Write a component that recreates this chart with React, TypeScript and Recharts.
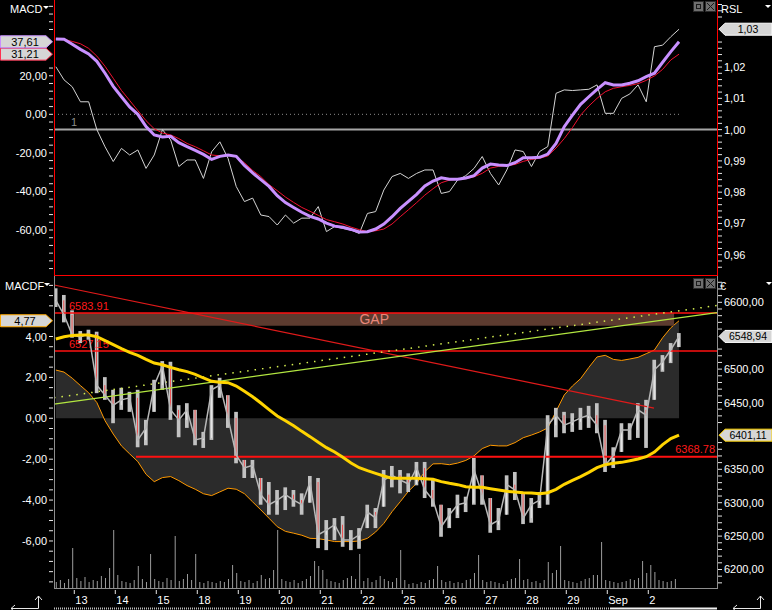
import React from "react";
import {
  ComposedChart,
  Line,
  Area,
  Bar,
  XAxis,
  YAxis,
  ReferenceLine,
  ReferenceArea,
} from "recharts";

const FONT = "'Liberation Sans', Arial, sans-serif";
const LEFT_W = 54;
const RIGHT_W = 55;

// sessions: 0 = Aug 13, one unit per trading day
const dayTicks = [0, 1, 2, 3, 4, 5, 6, 7, 8, 9, 10, 11, 12, 13, 14];
const dayLabels = ["13", "14", "15", "18", "19", "20", "21", "22", "25", "26", "27", "28", "29", "Sep", "2"];
const xDomain = [-0.495, 15.676];
const seriesStart = -0.45;
const seriesStep = 0.2;
const volumeStep = 0.1;

// upper panel: MACD / signal (left axis), RSL (right axis)
const macd = [
  39.1, 38.9, 36.3, 33.7, 31.3, 27.5, 21.3, 14.5, 9.1, 3.8,
  0.0, -6.4, -10.7, -11.8, -11.4, -14.7, -16.8, -18.7, -20.8, -23.4,
  -21.8, -21.1, -21.8, -26.5, -30.4, -33.9, -37.4, -42.2, -45.8, -48.3,
  -50.8, -52.9, -54.3, -56.4, -58.0, -58.6, -59.7, -61.0, -60.9, -59.5,
  -56.9, -53.1, -48.8, -45.1, -41.5, -37.2, -34.6, -32.9, -33.7, -33.7,
  -33.0, -31.8, -27.9, -25.8, -26.3, -26.6, -25.1, -22.5, -22.5, -22.3,
  -20.6, -15.1, -6.4, -0.4, 5.2, 9.1, 12.9, 16.4, 15.2, 15.2,
  16.1, 17.4, 19.5, 21.3, 27.0, 32.5, 37.61,
];
const signal = [
  39.1, 38.9, 37.8, 36.6, 34.2, 30.2, 24.9, 18.7, 12.4, 7.2,
  1.9, -3.3, -7.5, -9.7, -10.7, -12.6, -15.1, -16.8, -18.9, -21.1,
  -21.5, -21.3, -22.0, -25.1, -29.1, -32.3, -36.5, -39.6, -42.9, -45.7,
  -48.3, -50.3, -52.4, -54.6, -55.7, -56.9, -58.5, -59.8, -60.9, -60.4,
  -59.5, -56.9, -53.1, -49.5, -45.8, -41.9, -38.6, -35.5, -34.1, -33.7,
  -33.4, -32.4, -30.6, -27.9, -27.0, -26.6, -26.0, -24.4, -23.4, -22.8,
  -21.6, -17.5, -12.6, -6.9, -0.4, 4.3, 8.3, 11.7, 13.5, 14.3,
  15.0, 15.9, 17.6, 19.9, 23.3, 28.2, 31.21,
];
const rsl = [
  1.0201, 1.0159, 1.0137, 1.0089, 1.0089, 1.0, 0.9945, 0.9898, 0.994, 0.9919,
  0.9935, 0.9876, 0.9919, 1.0, 0.9967, 0.9882, 0.9903, 0.9903, 0.9844, 0.9929,
  0.9961, 0.9908, 0.9818, 0.977, 0.9781, 0.9727, 0.9722, 0.9695, 0.9727, 0.9701,
  0.9717, 0.9717, 0.9754, 0.9674, 0.969, 0.9684, 0.9679, 0.9668, 0.9732, 0.9738,
  0.9807, 0.985, 0.986, 0.9844, 0.986, 0.9871, 0.9871, 0.9796, 0.9802, 0.9839,
  0.9853, 0.9876, 0.9914, 0.986, 0.9823, 0.9871, 0.9935, 0.993, 0.9882, 0.993,
  0.9946, 1.0116, 1.0127, 1.0125, 1.0127, 1.0129, 1.0143, 1.0052, 1.0052, 1.01,
  1.0114, 1.0143, 1.0089, 1.0265, 1.027, 1.0297, 1.0321,
];

// lower panel: MACDF (left axis), price + average (right axis)
const macdf = [
  2.36, 2.26, 1.96, 1.6, 1.25, 0.77, -0.12, -0.77, -1.35, -1.74,
  -2.12, -2.74, -3.1, -2.9, -2.85, -3.05, -3.29, -3.47, -3.69, -3.78,
  -3.6, -3.42, -3.47, -3.69, -4.09, -4.48, -4.89, -5.3, -5.53, -5.62,
  -5.72, -5.87, -5.89, -5.95, -6.03, -6.03, -6.03, -6.0, -5.87, -5.56,
  -5.14, -4.57, -4.08, -3.57, -3.18, -2.61, -2.23, -2.22, -2.27, -2.19,
  -2.06, -1.84, -1.48, -1.32, -1.35, -1.35, -1.19, -0.95, -0.82, -0.67,
  -0.47, 0.34, 1.14, 1.58, 1.94, 2.49, 3.0, 3.08, 2.88, 2.83,
  2.9, 2.98, 3.16, 3.34, 3.94, 4.43, 4.77,
];
const priceHi = [
  6621, 6611, 6588, 6557, 6559, 6556, 6488, 6469, 6472, 6466,
  6469, 6424, 6484, 6512, 6511, 6446, 6449, 6439, 6406, 6476,
  6487, 6461, 6436, 6364, 6364, 6337, 6331, 6319, 6323, 6319,
  6314, 6340, 6337, 6274, 6277, 6280, 6259, 6262, 6297, 6292,
  6349, 6355, 6349, 6344, 6361, 6361, 6334, 6297, 6292, 6312,
  6309, 6367, 6341, 6307, 6292, 6341, 6346, 6316, 6307, 6316,
  6431, 6442, 6436, 6434, 6442, 6445, 6449, 6424, 6383, 6419,
  6419, 6449, 6454, 6514, 6521, 6539, 6554,
];
const priceLo = [
  6593, 6570, 6547, 6539, 6544, 6464, 6454, 6419, 6439, 6436,
  6383, 6386, 6436, 6469, 6424, 6398, 6412, 6386, 6382, 6394,
  6457, 6412, 6359, 6337, 6337, 6297, 6282, 6282, 6289, 6294,
  6282, 6300, 6232, 6229, 6244, 6234, 6229, 6231, 6262, 6262,
  6294, 6323, 6314, 6316, 6326, 6307, 6294, 6249, 6262, 6277,
  6286, 6297, 6297, 6255, 6259, 6282, 6304, 6268, 6270, 6292,
  6297, 6398, 6404, 6406, 6409, 6412, 6404, 6346, 6352, 6376,
  6394, 6397, 6382, 6454, 6496, 6509, 6533,
];
const priceClose = [
  6603, 6581, 6551, 6548, 6553, 6476, 6461, 6446, 6454, 6457,
  6394, 6412, 6476, 6505, 6439, 6424, 6439, 6394, 6397, 6469,
  6476, 6427, 6371, 6352, 6356, 6312, 6297, 6304, 6312, 6304,
  6297, 6331, 6252, 6259, 6267, 6244, 6244, 6252, 6286, 6277,
  6334, 6341, 6334, 6328, 6352, 6319, 6304, 6264, 6282, 6297,
  6300, 6349, 6312, 6267, 6274, 6327, 6319, 6277, 6297, 6304,
  6416, 6431, 6416, 6421, 6427, 6431, 6416, 6356, 6371, 6409,
  6409, 6439, 6431, 6499, 6511, 6529, 6548.94,
];
const avg = [
  6545.1, 6548.5, 6550.5, 6551.0, 6551.0, 6548.5, 6542.6, 6536.6, 6530.6, 6525.1,
  6520.6, 6514.6, 6509.1, 6506.6, 6502.6, 6499.1, 6496.2, 6492.2, 6486.7, 6481.7,
  6480.2, 6479.7, 6474.7, 6466.7, 6458.7, 6449.2, 6439.3, 6429.8, 6422.8, 6415.3,
  6406.8, 6398.9, 6390.4, 6382.4, 6375.9, 6367.9, 6359.4, 6352.4, 6347.9, 6343.9,
  6340.0, 6336.5, 6336.5, 6336.5, 6336.5, 6336.0, 6335.0, 6331.5, 6329.0, 6327.0,
  6324.0, 6323.0, 6323.0, 6321.0, 6319.0, 6317.0, 6316.0, 6315.0, 6314.5, 6313.5,
  6315.0, 6320.0, 6327.5, 6333.5, 6339.0, 6345.5, 6352.4, 6356.9, 6358.9, 6360.4,
  6362.9, 6365.4, 6368.9, 6375.9, 6386.9, 6395.9, 6401.11,
];
const volume = [
  6, 8, 5, 9, 40, 10, 7, 11, 6, 8, 7, 12, 10, 20, 58, 13, 7, 6, 5, 8,
  22, 9, 6, 34, 9, 7, 6, 10, 8, 52, 7, 9, 14, 8, 34, 6, 5, 7, 6, 5,
  7, 6, 9, 23, 15, 7, 6, 8, 5, 7, 13, 9, 10, 18, 58, 9, 7, 6, 8, 5,
  7, 9, 12, 27, 22, 18, 9, 7, 6, 5, 8, 10, 12, 9, 34, 7, 10, 6, 8, 12,
  9, 7, 6, 10, 38, 8, 4, 5, 4, 6, 5, 8, 9, 22, 8, 6, 7, 5, 6, 5,
  8, 9, 15, 33, 8, 6, 7, 6, 5, 4, 7, 9, 10, 29, 8, 9, 6, 7, 5, 8,
  26, 15, 18, 42, 8, 7, 6, 5, 7, 9, 10, 13, 13, 46, 8, 7, 6, 5, 6, 7,
  9, 8, 10, 27, 15, 23, 16, 8, 7, 6, 7, 9, 0,
];

// drawn levels and trendlines (price axis)
const gapTop = 6583.91;
const gapBottom = 6564.9;
const gapSpan = [0, 14.63];
const level2 = 6527.15;
const support = 6368.78;
const supportStart = 1.505;
const trendSolid = [{ x: -0.495, y: 6447.7 }, { x: 15.676, y: 6584.7 }];
const trendDotted = [{ x: -0.495, y: 6457.1 }, { x: 15.676, y: 6595.2 }];
const trendDown = [{ x: -0.495, y: 6625.9 }, { x: 14.14, y: 6441.7 }];

const steps = (from: number, to: number, step: number) => {
  const out: number[] = [];
  for (let k = 0; from + k * step <= to + step / 1000; k++) out.push(Math.round((from + k * step) * 10000) / 10000);
  return out;
};
const macdMajor = [-60, -40, -20, 0, 20, 40];
const rslMajor = [0.96, 0.97, 0.98, 0.99, 1.0, 1.01, 1.02, 1.03];
const macdfMajor = [-6, -4, -2, 0, 2, 4];
const priceMajor = [6200, 6250, 6300, 6350, 6400, 6450, 6500, 6550, 6600];

const last = macd.length - 1;
const topData = macd.map((v, i) => ({
  t: Math.round((seriesStart + i * seriesStep) * 100) / 100,
  macd: v,
  signal: signal[i],
  rsl: rsl[i],
}));
const bottomData = volume.map((v, j) => {
  const row: any = { t: Math.round((seriesStart + j * volumeStep) * 100) / 100, vol: v };
  if (j % 2 === 0) {
    const i = j / 2;
    row.candle = [priceLo[i], priceHi[i]];
    row.close = priceClose[i];
    row.open = i > 0 ? priceClose[i - 1] : priceClose[i];
    row.avg = avg[i];
    row.macdf = macdf[i];
  }
  return row;
});

const fmt = (v: number, d = 2) => v.toFixed(d).replace(".", ",");

// tick renderer; ticks sitting under a value callout are left out, as the box covers them
const yTick = (side: "left" | "right", majors: number[], covered: number[], tol: number) => (props: any) => {
  const { x, y, payload } = props;
  if (covered.some((c) => Math.abs(c - payload.value) < tol)) return <g />;
  const isMajor = majors.some((m) => Math.abs(m - payload.value) < 1e-6);
  const s = side === "left" ? -1 : 1;
  return (
    <g>
      <line x1={x + s * 1} x2={x + s * 5} y1={y} y2={y} stroke="#e6e6e6" />
      {isMajor && (
        <text x={x + s * 7} y={y + 4} textAnchor={side === "left" ? "end" : "start"} fill="#ffffff" fontSize={11} fontFamily={FONT}>
          {fmt(payload.value)}
        </text>
      )}
    </g>
  );
};

const dayTick = (props: any) => {
  const { x, y, payload } = props;
  const label = dayLabels[dayTicks.indexOf(payload.value)];
  return (
    <g>
      <line x1={x} x2={x} y1={y + 2} y2={y + 6} stroke="#e6e6e6" />
      <text x={x + 1} y={y + 16} fill="#ffffff" fontSize={11} fontFamily={FONT}>{label}</text>
    </g>
  );
};

const Candle = (props: any) => {
  const { x, y, width, height, payload } = props;
  if (!payload || !payload.candle || !(height > 0)) return null;
  const [lo, hi] = payload.candle;
  const toY = (v: number) => y + ((hi - v) / (hi - lo)) * height;
  const open = Math.min(hi, Math.max(lo, payload.open));
  const top = toY(Math.max(open, payload.close));
  const bot = toY(Math.min(open, payload.close));
  return (
    <g>
      <rect x={x} y={y} width={width} height={height} fill="#c2c2c2" />
      <rect x={x + 1.5} y={top} width={width - 3} height={Math.max(bot - top, 1)} fill={payload.close < payload.open ? "#ff2020" : "#f6f6f6"} />
    </g>
  );
};

const levelLabel = (text: string, anchor: "start" | "end", dx: number, dy: number, color = "#ff1a1a") => (props: any) => {
  const vb = props.viewBox;
  const x = anchor === "start" ? vb.x + dx : vb.x + vb.width - dx;
  return (
    <text x={x} y={vb.y + dy} textAnchor={anchor} fill={color} fontSize={11} fontFamily={FONT}>{text}</text>
  );
};

const callout = (text: string, side: "left" | "right", border: string) => (props: any) => {
  const vb = props.viewBox;
  const y = vb.y;
  if (side === "left") {
    const x0 = vb.x - LEFT_W;
    const pts = `${x0 + 0.5},${y - 6} ${x0 + 46},${y - 6} ${x0 + 52.5},${y} ${x0 + 46},${y + 6} ${x0 + 0.5},${y + 6}`;
    return (
      <g>
        <polygon points={pts} fill="#d6d6d6" stroke={border} />
        <text x={x0 + 25} y={y + 4} textAnchor="middle" fill="#000" fontSize={11} fontFamily={FONT}>{text}</text>
      </g>
    );
  }
  const x0 = vb.x + vb.width;
  const pts = `${x0 + 2},${y} ${x0 + 8},${y - 6} ${x0 + 55},${y - 6} ${x0 + 55},${y + 6} ${x0 + 8},${y + 6}`;
  return (
    <g>
      <polygon points={pts} fill="#d6d6d6" stroke={border} />
      <text x={x0 + 31} y={y + 4} textAnchor="middle" fill="#000" fontSize={10.5} fontFamily={FONT}>{text}</text>
    </g>
  );
};

const WinIcons = ({ y }: { y: number }) => (
  <g>
    <rect x={693.5} y={y + 0.5} width={10} height={10} fill="#6e6e6e" stroke="#2a2a2a" />
    <rect x={696.5} y={y + 3.5} width={4} height={4} fill="none" stroke="#1a1a1a" />
    <rect x={705.5} y={y + 0.5} width={10} height={10} fill="#6e6e6e" stroke="#2a2a2a" />
    <line x1={707} y1={y + 2} x2={714} y2={y + 9} stroke="#1a1a1a" />
    <line x1={714} y1={y + 2} x2={707} y2={y + 9} stroke="#1a1a1a" />
  </g>
);

export default function App() {
  return (
    <div style={{ position: "absolute", left: 0, top: 0, width: 772, height: 610, background: "#000", overflow: "hidden" }}>
      <div style={{ position: "absolute", left: 0, top: 0 }}>
        <ComposedChart width={772} height={275} data={topData} margin={{ top: 2, right: 0, bottom: 2, left: 0 }}>
          <XAxis dataKey="t" type="number" domain={xDomain} hide allowDataOverflow />
          <YAxis
            yAxisId="macd"
            width={LEFT_W}
            type="number"
            domain={[-82.3, 58.25]}
            allowDataOverflow
            ticks={steps(-80, 56, 4)}
            interval={0}
            tickSize={0}
            tickMargin={0}
            axisLine={false}
            tickLine={false}
            tick={yTick("left", macdMajor, [macd[last], signal[last]], 3.5)}
          />
          <YAxis
            yAxisId="rsl"
            orientation="right"
            width={RIGHT_W}
            type="number"
            domain={[0.95416, 1.0408]}
            allowDataOverflow
            ticks={steps(0.956, 1.04, 0.002)}
            interval={0}
            tickSize={0}
            tickMargin={0}
            axisLine={false}
            tickLine={false}
            tick={yTick("right", rslMajor, [rsl[last]], 0.0025)}
          />
          <ReferenceLine yAxisId="rsl" y={1} stroke="#a6a6a6" strokeWidth={2} />
          <ReferenceLine
            yAxisId="macd"
            segment={[{ x: xDomain[0], y: 0 }, { x: 14.75, y: 0 }]}
            ifOverflow="visible"
            stroke="#8c8c8c"
            strokeDasharray="1 3"
            label={{ content: levelLabel("1", "start", 17, 12, "#8c8c8c") }}
          />
          <Line yAxisId="rsl" dataKey="rsl" type="linear" stroke="#d4d4d4" strokeWidth={1} dot={false} isAnimationActive={false} />
          <Line yAxisId="macd" dataKey="signal" type="linear" stroke="#f01030" strokeWidth={1} dot={false} isAnimationActive={false} />
          <Line yAxisId="macd" dataKey="macd" type="linear" stroke="#c890ff" strokeWidth={3} dot={false} isAnimationActive={false} />
          <ReferenceLine yAxisId="macd" y={signal[last]} stroke="none" strokeWidth={0} label={{ content: callout(fmt(signal[last]), "left", "#ff3050") }} />
          <ReferenceLine yAxisId="macd" y={macd[last]} stroke="none" strokeWidth={0} label={{ content: callout(fmt(macd[last]), "left", "#c890ff") }} />
          <ReferenceLine yAxisId="rsl" y={rsl[last]} stroke="none" strokeWidth={0} label={{ content: callout(fmt(rsl[last]), "right", "#ffffff") }} />
        </ComposedChart>
      </div>

      <div style={{ position: "absolute", left: 0, top: 275 }}>
        <ComposedChart width={772} height={335} data={bottomData} margin={{ top: 2, right: 0, bottom: 0, left: 0 }}>
          <XAxis
            dataKey="t"
            type="number"
            domain={xDomain}
            allowDataOverflow
            ticks={dayTicks}
            interval={0}
            height={22}
            tickSize={0}
            tickMargin={0}
            axisLine={false}
            tickLine={false}
            tick={dayTick}
          />
          <XAxis xAxisId="v" dataKey="t" type="number" domain={xDomain} allowDataOverflow hide />
          <YAxis
            yAxisId="macdf"
            width={LEFT_W}
            type="number"
            domain={[-8.3, 6.91]}
            allowDataOverflow
            ticks={steps(-8, 6.5, 0.5)}
            interval={0}
            tickSize={0}
            tickMargin={0}
            axisLine={false}
            tickLine={false}
            tick={yTick("left", macdfMajor, [macdf[last]], 0.35)}
          />
          <YAxis
            yAxisId="price"
            orientation="right"
            width={RIGHT_W}
            type="number"
            domain={[6172.3, 6637.9]}
            allowDataOverflow
            ticks={steps(6180, 6630, 10)}
            interval={0}
            tickSize={0}
            tickMargin={0}
            axisLine={false}
            tickLine={false}
            tick={yTick("right", priceMajor, [priceClose[last], avg[last]], 9.5)}
          />
          <YAxis yAxisId="vol" type="number" domain={[0, 311]} allowDataOverflow hide />

          <Area
            yAxisId="macdf"
            dataKey="macdf"
            type="linear"
            stroke="#ff9900"
            strokeWidth={1}
            fill="#2b2b2b"
            fillOpacity={1}
            baseValue={0}
            connectNulls
            dot={false}
            activeDot={false}
            isAnimationActive={false}
          />
          <ReferenceArea
            yAxisId="price"
            x1={gapSpan[0]}
            x2={gapSpan[1]}
            y1={gapBottom}
            y2={gapTop}
            fill="#5c3b2f"
            fillOpacity={1}
            stroke="none"
            ifOverflow="visible"
            label={{ value: "GAP", position: "center", fill: "#e8877a", fontSize: 14, fontFamily: FONT }}
          />
          <Bar xAxisId="v" yAxisId="vol" dataKey="vol" fill="#9c9c9c" barSize={1} isAnimationActive={false} />

          <ReferenceLine yAxisId="price" segment={trendDown} ifOverflow="visible" stroke="#e01a1a" strokeWidth={1.2} />
          <ReferenceLine yAxisId="price" y={gapTop} stroke="#ff1010" strokeWidth={1.5} label={{ content: levelLabel("6583.91", "start", 15, -3) }} />
          <ReferenceLine yAxisId="price" y={level2} stroke="#ff1010" strokeWidth={1.5} label={{ content: levelLabel("6527.15", "start", 15, -3) }} />
          <ReferenceLine
            yAxisId="price"
            segment={[{ x: supportStart, y: support }, { x: xDomain[1], y: support }]}
            ifOverflow="visible"
            stroke="#ff1010"
            strokeWidth={2}
            label={{ content: levelLabel("6368.78", "end", 2, -4) }}
          />
          <ReferenceLine yAxisId="price" segment={trendSolid} ifOverflow="visible" stroke="#b2e640" strokeWidth={1.2} />
          <ReferenceLine yAxisId="price" segment={trendDotted} ifOverflow="visible" stroke="#d6f050" strokeWidth={1.5} strokeDasharray="1.5 6" />

          <Line yAxisId="price" dataKey="close" type="linear" stroke="#b8b8b8" strokeWidth={1.5} dot={false} connectNulls isAnimationActive={false} />
          <Bar yAxisId="price" dataKey="candle" barSize={6} shape={<Candle />} isAnimationActive={false} />
          <Line yAxisId="price" dataKey="avg" type="linear" stroke="#ffd400" strokeWidth={3} dot={false} connectNulls isAnimationActive={false} />

          <ReferenceLine yAxisId="macdf" y={macdf[last]} stroke="none" strokeWidth={0} label={{ content: callout(fmt(macdf[last]), "left", "#ffa800") }} />
          <ReferenceLine yAxisId="price" y={priceClose[last]} stroke="none" strokeWidth={0} label={{ content: callout(fmt(priceClose[last]), "right", "#ffffff") }} />
          <ReferenceLine yAxisId="price" y={avg[last]} stroke="none" strokeWidth={0} label={{ content: callout(fmt(avg[last]), "right", "#ffd400") }} />
        </ComposedChart>
      </div>

      <svg width={772} height={610} style={{ position: "absolute", left: 0, top: 0, pointerEvents: "none" }}>
        {/* upper panel frame */}
        <line x1={54.5} y1={0} x2={54.5} y2={276} stroke="#ff0000" />
        <line x1={717.5} y1={0} x2={717.5} y2={276} stroke="#ff0000" />
        <line x1={54} y1={275.5} x2={718} y2={275.5} stroke="#ff0000" />
        {/* lower panel frame */}
        <line x1={54.5} y1={276} x2={54.5} y2={589} stroke="#8e8e8e" />
        <line x1={717.5} y1={276} x2={717.5} y2={589} stroke="#8e8e8e" />
        <line x1={54} y1={588.5} x2={718} y2={588.5} stroke="#8e8e8e" />

        <text x={10} y={13} fill="#fff" fontSize={11} fontFamily={FONT}>MACD</text>
        <polygon points="43,6 49,6 46,9" fill="#fff" />
        <text x={721} y={13} fill="#fff" fontSize={11} fontFamily={FONT}>RSL</text>
        <polygon points="765,5 771,5 768,8" fill="#fff" />
        <text x={5} y={290} fill="#fff" fontSize={11} fontFamily={FONT}>MACDF</text>
        <polygon points="44,283 50,283 47,286" fill="#fff" />
        <text x={720} y={290} fill="#fff" fontSize={11} fontFamily={FONT}>€</text>
        <polygon points="766,282 772,282 769,285" fill="#fff" />
        <WinIcons y={1} />
        <WinIcons y={278} />

        {/* scroll strip */}
        <line x1={54} y1={608.5} x2={610} y2={608.5} stroke="#bdbdbd" strokeWidth={2} strokeDasharray="1 1" />
        <line x1={610} y1={608.5} x2={717} y2={608.5} stroke="#f0f0f0" strokeWidth={2} />

        {/* corner arrows */}
        <polyline points="11,608.5 38.5,608.5 38.5,596" fill="none" stroke="#e8e8e8" />
        <polyline points="15,605 11,608.5 15,612" fill="none" stroke="#e8e8e8" />
        <polyline points="35,600 38.5,596 42,600" fill="none" stroke="#e8e8e8" />
        <polyline points="733,608.5 760.5,608.5 760.5,596" fill="none" stroke="#e8e8e8" />
        <polyline points="737,605 733,608.5 737,612" fill="none" stroke="#e8e8e8" />
        <polyline points="757,600 760.5,596 764,600" fill="none" stroke="#e8e8e8" />
      </svg>
    </div>
  );
}
